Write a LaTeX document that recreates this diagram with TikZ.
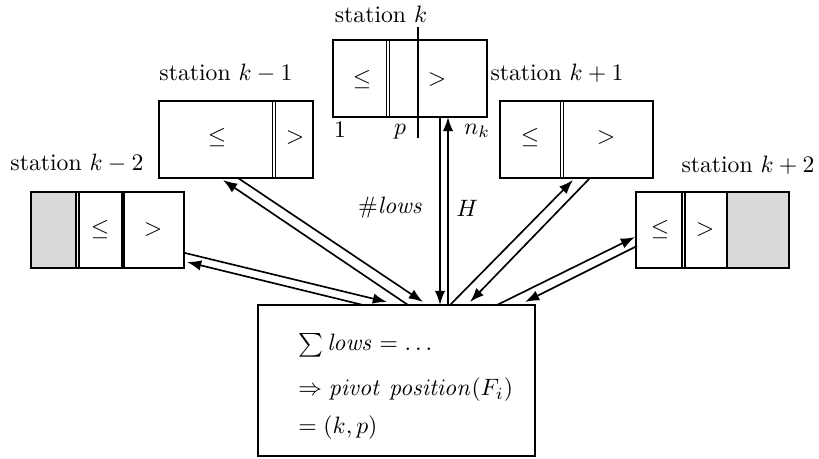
\documentclass[tikz,border=0pt]{standalone}
\usetikzlibrary{arrows.meta,fit}
\begin{document}
\begin{tikzpicture}[x=0.422pt,y=-0.422pt,
  box/.style={draw,line width=0.8pt,inner sep=0pt},
  divider/.style={line width=0.8pt},
  thickdiv/.style={line width=1.5pt},
  link/.style={line width=0.7pt,-{Latex[length=6pt,width=4.4pt]}},
  lbl/.style={inner sep=0pt},
  shade/.style={fill=gray!30}]
\useasboundingbox (0,0) rectangle (819,459);

% ---------- station k ----------
\node[box,fit={(333,40) (487,117)}] (sk) {};
\draw[divider] (386.5,40) -- (386.5,117) (389.5,40) -- (389.5,117);
\draw[line width=0.8pt] (418,27) -- (418,138);
\node[lbl] at (362,80) {$\leq$};
\node[lbl] at (437,80) {$>$};
\node[lbl] at (381,14) {station $k$};
\node[lbl] at (340,130) {$1$};
\node[lbl] at (400,132) {$p$};
\node[lbl] at (477,131) {$n_k$};

% ---------- station k-1 ----------
\node[box,fit={(159,101) (313,178)}] (skm1) {};
\draw[divider] (272.5,101) -- (272.5,178) (275.5,101) -- (275.5,178);
\node[lbl] at (217,138) {$\leq$};
\node[lbl] at (295,138) {$>$};
\node[lbl] at (226,73) {station $k-1$};

% ---------- station k+1 ----------
\node[box,fit={(500,101) (653,178)}] (skp1) {};
\draw[divider] (560.5,101) -- (560.5,178) (563.5,101) -- (563.5,178);
\node[lbl] at (530,138) {$\leq$};
\node[lbl] at (606,138) {$>$};
\node[lbl] at (557,73) {station $k+1$};

% ---------- station k-2 ----------
\fill[shade] (31,192) rectangle (77,268);
\node[box,fit={(31,192) (184,268)}] (skm2) {};
\draw[divider] (76,192) -- (76,268) (79,192) -- (79,268);
\draw[thickdiv] (123,192) -- (123,268);
\node[lbl] at (100,230) {$\leq$};
\node[lbl] at (153,230) {$>$};
\node[lbl] at (77,163) {station $k-2$};

% ---------- station k+2 ----------
\fill[shade] (727,192) rectangle (789,268);
\node[box,fit={(636,192) (789,268)}] (skp2) {};
\draw[divider] (682,192) -- (682,268) (685,192) -- (685,268);
\draw[divider] (727,192) -- (727,268);
\node[lbl] at (660,230) {$\leq$};
\node[lbl] at (705,230) {$>$};
\node[lbl] at (748,165) {station $k+2$};

% ---------- central box ----------
\node[box,fit={(258,305) (535,456)}] (c) {};
\node[lbl,anchor=west] at (298,345) {$\sum \mathit{lows} = \ldots$};
\node[lbl,anchor=west] at (298,390) {$\Rightarrow \mathit{pivot\ position}(F_i)$};
\node[lbl,anchor=west] at (298,428) {$= (k,p)$};

% ---------- connector end points ----------
\coordinate (a1) at (185,253);  \coordinate (a2) at (387,302);
\coordinate (a3) at (363,305);  \coordinate (a4) at (187,262);
\coordinate (b1) at (238,178);  \coordinate (b2) at (423,302);
\coordinate (b3) at (408,305);  \coordinate (b4) at (223,180);
\coordinate (c1) at (440,117);  \coordinate (c2) at (440,305);
\coordinate (c3) at (448,305);  \coordinate (c4) at (448,117);
\coordinate (d1) at (590,178);  \coordinate (d2) at (470,302);
\coordinate (d3) at (450,305);  \coordinate (d4) at (573,180);
\coordinate (e1) at (637,246);  \coordinate (e2) at (525,302);
\coordinate (e3) at (497,305);  \coordinate (e4) at (635,237);

\draw[link] (a1) -- (a2);
\draw[link] (a3) -- (a4);
\draw[link] (b1) -- (b2);
\draw[link] (b3) -- (b4);
\draw[link] (c1) -- (c2);
\draw[link] (c3) -- (c4);
\draw[link] (d1) -- (d2);
\draw[link] (d3) -- (d4);
\draw[link] (e1) -- (e2);
\draw[link] (e3) -- (e4);

\node[lbl,anchor=east] at (424,208) {$\#\mathit{lows}$};
\node[lbl,anchor=west] at (456,208) {$H$};
\end{tikzpicture}
\end{document}
